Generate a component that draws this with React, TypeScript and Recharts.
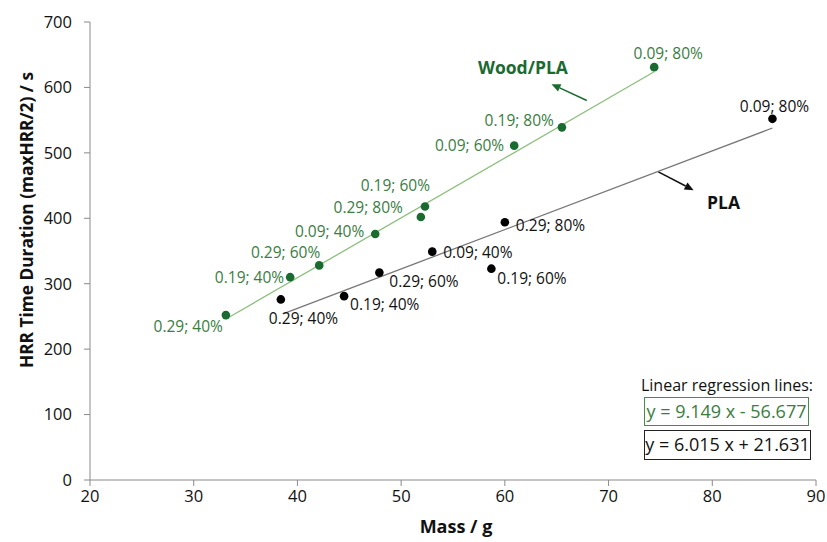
import React from "react";
import {
  ScatterChart,
  Scatter,
  XAxis,
  YAxis,
  LabelList,
  ReferenceLine,
} from "recharts";

// ---- data ----
const woodPlaMass = [33.1, 39.3, 42.1, 47.5, 51.9, 52.3, 60.9, 65.5, 74.4];
const woodPlaTime = [252, 310, 328, 376, 402, 418, 511, 539, 631];
const woodPlaLabels = [
  "0.29; 40%",
  "0.19; 40%",
  "0.29; 60%",
  "0.09; 40%",
  "0.29; 80%",
  "0.19; 60%",
  "0.09; 60%",
  "0.19; 80%",
  "0.09; 80%",
];

const plaMass = [38.4, 44.5, 47.9, 53.0, 58.7, 60.0, 85.8];
const plaTime = [276, 281, 317, 349, 323, 394, 552];
const plaLabels = [
  "0.29; 40%",
  "0.19; 40%",
  "0.29; 60%",
  "0.09; 40%",
  "0.19; 60%",
  "0.29; 80%",
  "0.09; 80%",
];

// regression line end points
const woodPlaFitMass = [33.1, 74.4];
const woodPlaFitTime = [246, 624];
const plaFitMass = [38.6, 85.8];
const plaFitTime = [254, 538];

const xTicks = [20, 30, 40, 50, 60, 70, 80, 90];
const yTicks = [0, 100, 200, 300, 400, 500, 600, 700];

const woodPlaEquation = "y = 9.149 x - 56.677";
const plaEquation = "y = 6.015 x + 21.631";

// label placement (dx, dy, anchor) per point
const woodPlaLabelPlace: [number, number, string][] = [
  [-3, 11, "end"],
  [-6, 0, "end"],
  [1, -13, "end"],
  [-11, -3, "end"],
  [-18, -10, "end"],
  [5, -22, "end"],
  [-10, -1, "end"],
  [-8, -7, "end"],
  [14, -14, "middle"],
];
const plaLabelPlace: [number, number, string][] = [
  [-12, 19, "start"],
  [6, 8, "start"],
  [10, 8, "start"],
  [11, 0, "start"],
  [6, 9, "start"],
  [11, 3, "start"],
  [2, -13, "middle"],
];

const woodPlaData = woodPlaMass.map((m, i) => ({ x: m, y: woodPlaTime[i], label: woodPlaLabels[i] }));
const plaData = plaMass.map((m, i) => ({ x: m, y: plaTime[i], label: plaLabels[i] }));
const woodPlaFit = woodPlaFitMass.map((m, i) => ({ x: m, y: woodPlaFitTime[i] }));
const plaFit = plaFitMass.map((m, i) => ({ x: m, y: plaFitTime[i] }));

const GREEN_DOT = "#1a6b30";
const GREEN_TEXT = "#3a7d3f";
const GREEN_LINE = "#8cbf7c";
const FONT = "'Open Sans', sans-serif";

const makeLabel = (places: [number, number, string][], color: string) => (props: any) => {
  const { x, y, width, height, index, value } = props;
  const cx = x + (width || 0) / 2;
  const cy = y + (height || 0) / 2;
  const p = places[index] || [6, 0, "start"];
  return (
    <text
      x={cx + p[0]}
      y={cy + p[1]}
      textAnchor={p[2] as any}
      dominantBaseline="central"
      fill={color}
      fontSize={15.5}
      fontFamily={FONT}
    >
      {value}
    </text>
  );
};

const arrowShape = (color: string) => (props: any) => {
  const { x1, y1, x2, y2 } = props;
  if ([x1, y1, x2, y2].some((v) => typeof v !== "number" || isNaN(v))) return <g />;
  const ang = Math.atan2(y2 - y1, x2 - x1);
  const L = 9;
  const W = 4;
  const bx = x2 - L * Math.cos(ang);
  const by = y2 - L * Math.sin(ang);
  const px = -Math.sin(ang) * W;
  const py = Math.cos(ang) * W;
  return (
    <g>
      <line x1={x1} y1={y1} x2={bx} y2={by} stroke={color} strokeWidth={1.5} />
      <polygon points={`${x2},${y2} ${bx + px},${by + py} ${bx - px},${by - py}`} fill={color} />
    </g>
  );
};

const noShape = () => <g />;

export default function App() {
  return (
    <div style={{ position: "absolute", left: 0, top: 0, width: 827, height: 542, background: "#fff", fontFamily: FONT }}>
      <ScatterChart
        width={827}
        height={542}
        margin={{ top: 22, right: 11, bottom: 32, left: 30 }}
      >
        <XAxis
          type="number"
          dataKey="x"
          domain={[20, 90]}
          ticks={xTicks}
          allowDataOverflow
          stroke="#8a8a8a"
          tickSize={6}
          tickMargin={4}
          height={30}
          tick={{ fill: "#111", fontSize: 16.5, fontFamily: FONT }}
        />
        <YAxis
          type="number"
          dataKey="y"
          domain={[0, 700]}
          ticks={yTicks}
          allowDataOverflow
          stroke="#8a8a8a"
          tickSize={6}
          tickMargin={12}
          width={60}
          tick={{ fill: "#111", fontSize: 16.5, fontFamily: FONT }}
        />
        <Scatter
          data={woodPlaFit}
          line={{ stroke: GREEN_LINE, strokeWidth: 1.3 }}
          shape={noShape}
          isAnimationActive={false}
        />
        <Scatter
          data={plaFit}
          line={{ stroke: "#777", strokeWidth: 1.3 }}
          shape={noShape}
          isAnimationActive={false}
        />
        <Scatter
          data={woodPlaData}
          fill={GREEN_DOT}
          shape={(p: any) => <circle cx={p.cx} cy={p.cy} r={4.3} fill={GREEN_DOT} />}
          isAnimationActive={false}
        >
          <LabelList dataKey="label" content={makeLabel(woodPlaLabelPlace, GREEN_TEXT)} />
        </Scatter>
        <Scatter
          data={plaData}
          fill="#000"
          shape={(p: any) => <circle cx={p.cx} cy={p.cy} r={4.3} fill="#000" />}
          isAnimationActive={false}
        >
          <LabelList dataKey="label" content={makeLabel(plaLabelPlace, "#111")} />
        </Scatter>
        <ReferenceLine
          segment={[{ x: 67.9, y: 580 }, { x: 64.5, y: 605 }]}
          shape={arrowShape(GREEN_DOT)}
          ifOverflow="visible"
        />
        <ReferenceLine
          segment={[{ x: 74.8, y: 471 }, { x: 78.2, y: 443 }]}
          shape={arrowShape("#111")}
          ifOverflow="visible"
        />
      </ScatterChart>

      <div style={{ position: "absolute", left: 478, top: 54, color: GREEN_DOT, fontWeight: 700, fontSize: 17.5, lineHeight: "26px" }}>
        Wood/PLA
      </div>
      <div style={{ position: "absolute", left: 707, top: 189, color: "#111", fontWeight: 700, fontSize: 17.5, lineHeight: "26px" }}>
        PLA
      </div>

      <div
        style={{
          position: "absolute",
          left: 27,
          top: 220,
          width: 0,
          height: 0,
        }}
      >
        <div
          style={{
            position: "absolute",
            left: 0,
            top: 0,
            transform: "translate(-50%, -50%) rotate(-90deg)",
            whiteSpace: "nowrap",
            fontWeight: 700,
            fontSize: 17.3,
            color: "#111",
            lineHeight: "24px",
          }}
        >
          HRR Time Duration (maxHRR/2) / s
        </div>
      </div>
      <div style={{ position: "absolute", left: 356, width: 200, top: 513, textAlign: "center", fontWeight: 700, fontSize: 18, color: "#111", lineHeight: "26px" }}>
        Mass / g
      </div>

      <div style={{ position: "absolute", left: 636, width: 182, top: 373, textAlign: "center", fontSize: 16, color: "#111", lineHeight: "24px" }}>
        Linear regression lines:
      </div>
      <div
        style={{
          position: "absolute",
          left: 644,
          top: 397,
          width: 165,
          height: 29,
          border: `1.5px solid #4a8a4f`,
          boxSizing: "border-box",
          color: GREEN_TEXT,
          fontSize: 18,
          lineHeight: "26px",
          textAlign: "center",
          whiteSpace: "nowrap",
        }}
      >
        {woodPlaEquation}
      </div>
      <div
        style={{
          position: "absolute",
          left: 644,
          top: 430,
          width: 167,
          height: 30,
          border: `1.5px solid #222`,
          boxSizing: "border-box",
          color: "#111",
          fontSize: 18,
          lineHeight: "27px",
          textAlign: "center",
          whiteSpace: "nowrap",
        }}
      >
        {plaEquation}
      </div>
    </div>
  );
}
